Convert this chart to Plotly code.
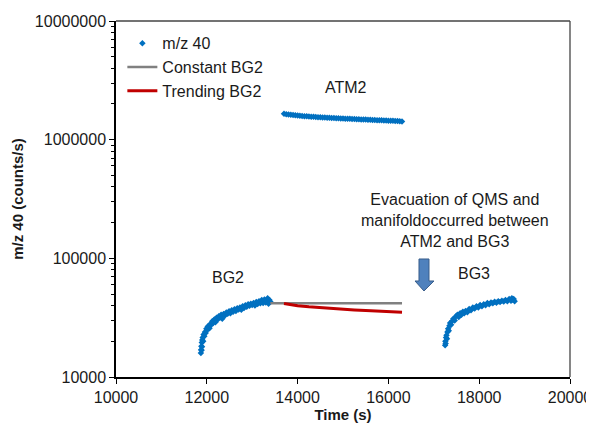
import plotly.graph_objects as go

# ---------------- data ----------------
bg2_time = [11870, 11875, 11880, 11885, 11890, 11895, 11900, 11910, 11920, 11930,
            11945, 11960, 11975, 11990, 12005, 12020, 12040, 12060, 12080, 12100,
            12120, 12140, 12165, 12190, 12215, 12240, 12265, 12290, 12315, 12340,
            12370, 12400, 12430, 12460, 12490, 12520, 12550, 12580, 12610, 12640,
            12670, 12700, 12730, 12760, 12790, 12820, 12850, 12880, 12910, 12940,
            12970, 13000, 13030, 13060, 13090, 13120, 13150, 13180, 13210, 13240,
            13270, 13300, 13320, 13340, 13360, 13380, 13400]
bg2_counts = [15900, 17000, 18200, 16800, 19500, 18000, 20500, 21500, 20000, 22800,
              22000, 24000, 23500, 25500, 24800, 26500, 27000, 25800, 28000, 27500,
              29500, 28500, 30500, 29000, 31500, 30500, 32500, 31800, 33500, 31000,
              34000, 33000, 35000, 34200, 35800, 34500, 36500, 35500, 37200, 36000,
              38000, 37000, 38500, 36800, 39500, 38200, 40200, 39000, 41000, 39800,
              41500, 40500, 42000, 40000, 42800, 41200, 43500, 41800, 44500, 42000,
              45000, 42500, 44000, 46000, 41500, 44500, 43000]

atm2_time = [13700, 13750, 13800, 13850, 13900, 13950, 14000, 14050, 14100, 14150,
             14200, 14250, 14300, 14350, 14400, 14450, 14500, 14550, 14600, 14650,
             14700, 14750, 14800, 14850, 14900, 14950, 15000, 15050, 15100, 15150,
             15200, 15250, 15300, 15350, 15400, 15450, 15500, 15550, 15600, 15650,
             15700, 15750, 15800, 15850, 15900, 15950, 16000, 16050, 16100, 16150,
             16200, 16250, 16300]
atm2_counts = [1650000, 1640000, 1630000, 1620000, 1612000, 1604000, 1596000, 1590000,
               1584000, 1578000, 1572000, 1567000, 1562000, 1557000, 1552000, 1548000,
               1544000, 1540000, 1536000, 1532000, 1528000, 1524000, 1520000, 1517000,
               1514000, 1510000, 1507000, 1504000, 1500000, 1497000, 1494000, 1491000,
               1488000, 1485000, 1482000, 1479000, 1476000, 1473000, 1470000, 1467000,
               1464000, 1461000, 1458000, 1455000, 1452000, 1449000, 1446000, 1443000,
               1440000, 1437000, 1434000, 1431000, 1425000]

bg3_time = [17250, 17255, 17260, 17270, 17280, 17290, 17300, 17315, 17330, 17345,
            17360, 17380, 17400, 17430, 17460, 17490, 17520, 17550, 17580, 17610,
            17640, 17670, 17700, 17740, 17780, 17820, 17860, 17900, 17940, 17980,
            18020, 18060, 18100, 18140, 18180, 18220, 18260, 18300, 18340, 18380,
            18420, 18460, 18500, 18540, 18580, 18620, 18660, 18700, 18720, 18740,
            18760, 18780]
bg3_counts = [18500, 20000, 19200, 21500, 22500, 21000, 24000, 25500, 24500, 27000,
              28500, 27500, 29500, 31000, 30000, 32500, 33500, 32000, 34500, 33500,
              35500, 34500, 36000, 35200, 37500, 36500, 38500, 37800, 39500, 38500,
              40500, 39500, 41000, 40200, 42000, 41000, 42500, 41800, 43000, 42200,
              43500, 42800, 44000, 43200, 44500, 43500, 45500, 44000, 46000, 44800,
              45500, 43500]

constant_time = [13400, 16300]
constant_counts = [41800, 41800]

trend_time = [13700, 13800, 13900, 14000, 14250, 14500, 14750, 15000, 15250, 15500,
              15750, 16000, 16150, 16300]
trend_counts = [41700, 41000, 40400, 39800, 39000, 38300, 37700, 37200, 36700, 36300,
                35900, 35600, 35400, 35200]

x_ticks = [10000, 12000, 14000, 16000, 18000, 20000]
y_ticks = [10000, 100000, 1000000, 10000000]
y_tick_labels = ["10000", "100000", "1000000", "10000000"]
y_minor = [m * 10 ** e for e in (4, 5, 6) for m in range(2, 10)]

# ---------------- figure ----------------
FONT = "Arial, Liberation Sans, sans-serif"
BLUE = "#0070C0"
TXT = 16

fig = go.Figure()
marker_style = dict(color=BLUE, size=5, symbol="diamond")
fig.add_trace(go.Scatter(x=bg2_time, y=bg2_counts, mode="markers", marker=marker_style,
                         name="m/z 40", legendgroup="mz"))
fig.add_trace(go.Scatter(x=atm2_time, y=atm2_counts, mode="markers", marker=marker_style,
                         name="m/z 40", showlegend=False, legendgroup="mz"))
fig.add_trace(go.Scatter(x=bg3_time, y=bg3_counts, mode="markers", marker=marker_style,
                         name="m/z 40", showlegend=False, legendgroup="mz"))
fig.add_trace(go.Scatter(x=constant_time, y=constant_counts, mode="lines",
                         line=dict(color="#808080", width=2.5), name="Constant BG2"))
fig.add_trace(go.Scatter(x=trend_time, y=trend_counts, mode="lines",
                         line=dict(color="#C00000", width=3), name="Trending BG2"))

# the page adds an 8px body margin, so the figure is 8px smaller and offset
fig.update_layout(
    width=586, height=423,
    margin=dict(l=108, r=24, t=13, b=54, autoexpand=False),
    paper_bgcolor="white", plot_bgcolor="white",
    font=dict(family=FONT, size=TXT, color="#1a1a1a"),
    showlegend=True,
    legend=dict(x=0.014, y=0.985, xanchor="left", yanchor="top",
                bgcolor="rgba(0,0,0,0)", font=dict(size=TXT, family=FONT),
                itemwidth=30, tracegroupgap=0),
)

fig.update_xaxes(
    range=[10000, 20000], tickvals=x_ticks, tickformat="d",
    ticks="outside", ticklen=5, tickwidth=1.3, tickcolor="black",
    showline=True, linecolor="black", linewidth=1.5,
    showgrid=False, zeroline=False,
    tickfont=dict(size=TXT, family=FONT),
    title=dict(text="<b>Time (s)</b>", font=dict(size=15, family=FONT), standoff=5),
    automargin=False,
)
fig.update_yaxes(
    type="log", range=[4, 7], tickvals=y_ticks, ticktext=y_tick_labels,
    ticks="outside", ticklen=5, tickwidth=1.3, tickcolor="black",
    minor=dict(tickvals=y_minor, ticks="outside", ticklen=3, tickcolor="black", tickwidth=1),
    showline=True, linecolor="black", linewidth=1.5,
    showgrid=False, zeroline=False,
    tickfont=dict(size=TXT, family=FONT),
    title=dict(text="<b>m/z 40 (counts/s)</b>", font=dict(size=15, family=FONT), standoff=8),
    automargin=False,
)

# frame top / right
fig.add_shape(type="line", xref="paper", yref="paper", x0=0, x1=1, y0=1, y1=1,
              line=dict(color="#444444", width=1.3))
fig.add_shape(type="line", xref="paper", yref="paper", x0=1, x1=1, y0=0, y1=1,
              line=dict(color="#444444", width=1.3))

# block arrow
fig.add_shape(type="path", xref="paper", yref="paper",
              path="M 0.6674 0.3315 L 0.6894 0.3315 L 0.6894 0.2697 L 0.7004 0.2697 "
                   "L 0.6784 0.2416 L 0.6586 0.2697 L 0.6674 0.2697 Z",
              fillcolor="#4F81BD", line=dict(color="#385D8A", width=1))

ann_font = dict(size=TXT, family=FONT, color="#1a1a1a")
fig.add_annotation(x=15066, y=6.437, text="ATM2", showarrow=False, font=ann_font)
fig.add_annotation(x=12467, y=4.84, text="BG2", showarrow=False, font=ann_font)
fig.add_annotation(x=17885, y=4.874, text="BG3", showarrow=False, font=ann_font)
fig.add_annotation(x=17467, y=5.32,
                   text="Evacuation of QMS and<br>manifoldoccurred between<br>ATM2 and BG3",
                   showarrow=False, font=ann_font, align="center")

fig.write_html("out.html")
